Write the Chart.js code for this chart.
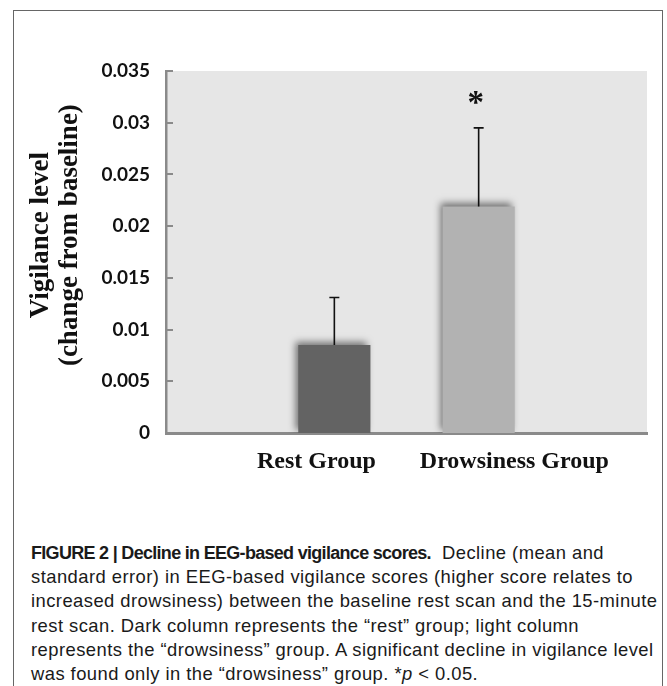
<!DOCTYPE html>
<html>
<head>
<meta charset="utf-8">
<script src="https://cdn.jsdelivr.net/npm/chart.js@4.4.0/dist/chart.umd.min.js"></script>
<style>
  html, body { margin: 0; padding: 0; background: #fff; }
  body { width: 667px; height: 686px; position: relative; overflow: hidden; }
  #frame { position: absolute; left: 13px; top: 10px; width: 650px; height: 720px;
           border: 1.5px solid #666; border-bottom: none; box-sizing: border-box; }
  #wrap { position: absolute; left: 0; top: 0; width: 667px; height: 530px; }
  #caption { position: absolute; left: 31px; top: 541px; width: 632px; white-space: nowrap;
             font-family: "Liberation Sans", Arial, sans-serif; font-size: 18.4px;
             letter-spacing: 0.45px; line-height: 24.2px; color: #1a1a1a; }
  #caption b { font-size: 18px; letter-spacing: -0.7px; }
</style>
</head>
<body>
<div id="frame"></div>
<div id="wrap"><canvas id="chart" width="667" height="530"></canvas></div>
<div id="caption"><b>FIGURE 2 | Decline in EEG-based vigilance scores.</b>&nbsp; Decline (mean and<br>standard error) in EEG-based vigilance scores (higher score relates to<br>increased drowsiness) between the baseline rest scan and the 15-minute<br>rest scan. Dark column represents the &ldquo;rest&rdquo; group; light column<br>represents the &ldquo;drowsiness&rdquo; group. A significant decline in vigilance level<br>was found only in the &ldquo;drowsiness&rdquo; group. *<i>p</i> &lt; 0.05.</div>
<script>
// values
const categories = ['Rest Group', 'Drowsiness Group'];
const means = [0.0085, 0.0219];
const stdErrors = [0.0046, 0.0076];
const significance = ['', '*'];
const barColors = ['#636363', '#b2b2b2'];
const yTicks = { min: 0, max: 0.035, step: 0.005 };
// leading spaces nudge the axis title up a bit, as in the original
const yTitle = ['     Vigilance level', '     (change from baseline)'];

// one dataset per group so each bar sits off-centre in its slot, like the original
function onlyAt(arr, idx, empty) { return arr.map((v, i) => i === idx ? v : empty); }

const datasets = [1, 0].map(idx => ({
  label: categories[idx],
  data: onlyAt(means, idx, null),
  errors: onlyAt(stdErrors, idx, null),
  sig: onlyAt(significance, idx, ''),
  backgroundColor: barColors[idx],
  borderWidth: 0,
  barPercentage: 0.75,
  categoryPercentage: 0.8
}));

const plotBackground = {
  id: 'plotBackground',
  beforeDraw(chart) {
    const { ctx, chartArea: a } = chart;
    ctx.save();
    ctx.fillStyle = '#e6e6e6';
    ctx.fillRect(a.left, a.top, a.right - a.left, a.bottom - a.top);
    ctx.restore();
  },
  // tick marks point into the plot, as in the original
  afterDraw(chart) {
    const { ctx, chartArea: a } = chart;
    const y = chart.scales.y;
    ctx.save();
    ctx.strokeStyle = '#8a8a8a';
    ctx.lineWidth = 2;
    y.ticks.forEach(t => {
      const py = Math.round(y.getPixelForValue(t.value));
      ctx.beginPath();
      ctx.moveTo(a.left, py);
      ctx.lineTo(a.left + 7, py);
      ctx.stroke();
    });
    ctx.restore();
  }
};

// soft shadow on the columns
const barShadow = {
  id: 'barShadow',
  beforeDatasetsDraw(chart) {
    const ctx = chart.ctx;
    ctx.save();
    ctx.shadowColor = 'rgba(0,0,0,0.5)';
    ctx.shadowBlur = 7;
    ctx.shadowOffsetX = -3;
    ctx.shadowOffsetY = -3;
  },
  afterDatasetsDraw(chart) { chart.ctx.restore(); }
};

const errorBars = {
  id: 'errorBars',
  afterDatasetsDraw(chart) {
    const ctx = chart.ctx;
    const y = chart.scales.y;
    ctx.save();
    chart.data.datasets.forEach((ds, di) => {
      const meta = chart.getDatasetMeta(di);
      meta.data.forEach((bar, i) => {
        const v = ds.data[i];
        if (v == null) return;
        const top = y.getPixelForValue(v + ds.errors[i]);
        ctx.strokeStyle = '#111';
        ctx.lineWidth = 1.6;
        ctx.beginPath();
        ctx.moveTo(bar.x, bar.y);
        ctx.lineTo(bar.x, top);
        ctx.moveTo(bar.x - 5, top);
        ctx.lineTo(bar.x + 5, top);
        ctx.stroke();
        if (ds.sig[i]) {
          ctx.fillStyle = '#111';
          ctx.font = 'bold 33px "Liberation Serif", serif';
          ctx.textAlign = 'center';
          ctx.textBaseline = 'alphabetic';
          ctx.fillText(ds.sig[i], bar.x - 3, top - 15);
        }
      });
    });
    ctx.restore();
  }
};

new Chart(document.getElementById('chart'), {
  type: 'bar',
  data: { labels: categories, datasets },
  plugins: [plotBackground, barShadow, errorBars],
  options: {
    responsive: false,
    animation: false,
    layout: { padding: { left: 0, right: 20, top: 71, bottom: 37 } },
    plugins: { legend: { display: false }, tooltip: { enabled: false } },
    scales: {
      x: { type: 'category', display: false, offset: true },
      // label axis: group names sit where the original placed them
      xl: {
        type: 'linear',
        position: 'bottom',
        offset: false,
        min: -0.76,
        max: 1.67,
        afterBuildTicks: axis => { axis.ticks = categories.map((c, i) => ({ value: i })); },
        afterFit: s => { s.height = 60; },
        grid: { display: false, drawTicks: false },
        border: { display: true, color: '#8a8a8a', width: 3 },
        ticks: {
          autoSkip: false,
          maxRotation: 0,
          padding: 14,
          color: '#111',
          font: { family: '"Liberation Serif", serif', size: 24, weight: 'bold' },
          callback: v => categories[v]
        }
      },
      y: {
        min: yTicks.min,
        max: yTicks.max,
        afterFit: s => { s.width = 166; },
        grid: { display: false, drawTicks: false },
        border: { display: true, color: '#8a8a8a', width: 2.5 },
        ticks: {
          stepSize: yTicks.step,
          padding: 16,
          color: '#111',
          font: { family: 'Lato', size: 19, weight: 'bold' },
          callback: v => String(+v.toFixed(3))
        },
        title: {
          display: true,
          text: yTitle,
          color: '#111',
          padding: { top: 27, bottom: 0 },
          font: { family: '"Liberation Serif", serif', size: 27, weight: 'bold', lineHeight: 1.07 }
        }
      }
    }
  }
});
</script>
</body>
</html>
